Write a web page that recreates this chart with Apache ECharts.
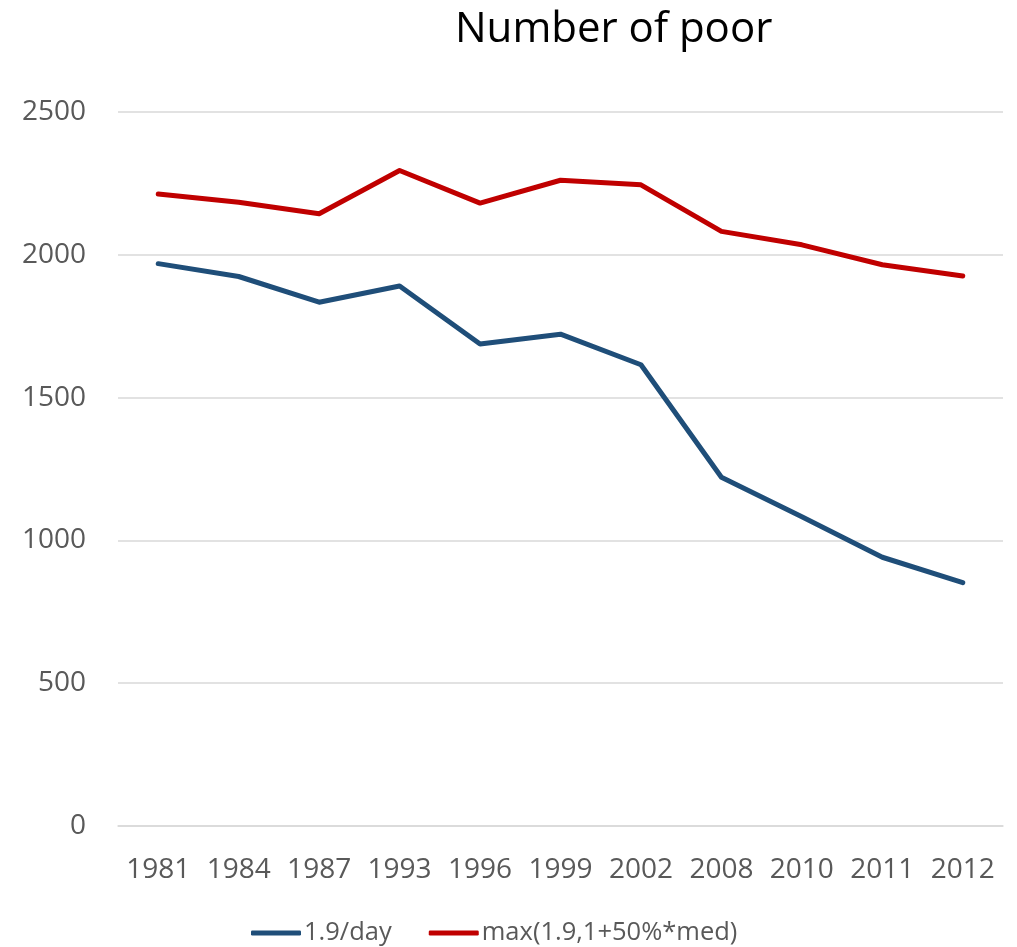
<!DOCTYPE html>
<html>
<head>
<meta charset="utf-8">
<script src="https://cdn.jsdelivr.net/npm/echarts@6/dist/echarts.min.js"></script>
<style>
  html, body { margin: 0; padding: 0; background: #fff; }
  #chart { width: 1017px; height: 947px; }
</style>
</head>
<body>
<div id="chart"></div>
<script>
// Survey years on the category axis
const years = ['1981', '1984', '1987', '1993', '1996', '1999', '2002', '2008', '2010', '2011', '2012'];
// Number of poor (millions) under each poverty line
const poorAbsolute = [1969, 1924, 1834, 1891, 1688, 1722, 1615, 1221, 1083, 941, 852];
const poorWeakRelative = [2213, 2184, 2144, 2295, 2181, 2261, 2245, 2082, 2035, 1965, 1926];
const seriesNames = ['1.9/day', 'max(1.9,1+50%*med)'];

const FONT = 'Open Sans';
const chart = echarts.init(document.getElementById('chart'));
chart.setOption({
  animation: false,
  title: {
    text: 'Number of poor',
    left: 450,
    top: 4,
    textStyle: { fontFamily: FONT, fontSize: 42, fontWeight: 'normal', color: '#000' }
  },
  legend: {
    bottom: -4,
    left: 246,
    itemWidth: 50,
    itemHeight: 5,
    itemGap: 37,
    icon: 'roundRect',
    textStyle: { fontFamily: FONT, fontSize: 25.5, color: '#595959', padding: [0, 0, 0, -2] },
    data: seriesNames
  },
  grid: { left: 118, right: 14, top: 112, bottom: 121, containLabel: false },
  xAxis: {
    type: 'category',
    data: years,
    boundaryGap: true,
    axisLine: { show: true, lineStyle: { color: '#d9d9d9', width: 1.5 } },
    axisTick: { show: false },
    axisLabel: { interval: 0, fontFamily: FONT, fontSize: 28, color: '#595959', margin: 30 }
  },
  yAxis: {
    type: 'value',
    min: 0,
    max: 2500,
    interval: 500,
    axisLine: { show: false },
    axisTick: { show: false },
    splitLine: { lineStyle: { color: '#d9d9d9', width: 1.5 } },
    axisLabel: {
      fontFamily: FONT, fontSize: 28, color: '#595959', margin: 32,
      formatter: v => String(v)
    }
  },
  series: [
    {
      name: seriesNames[0],
      type: 'line',
      data: poorAbsolute,
      symbol: 'none',
      lineStyle: { color: '#1F4E79', width: 5, cap: 'round', join: 'round' },
      itemStyle: { color: '#1F4E79' }
    },
    {
      name: seriesNames[1],
      type: 'line',
      data: poorWeakRelative,
      symbol: 'none',
      lineStyle: { color: '#C00000', width: 5, cap: 'round', join: 'round' },
      itemStyle: { color: '#C00000' }
    }
  ]
});
</script>
</body>
</html>
